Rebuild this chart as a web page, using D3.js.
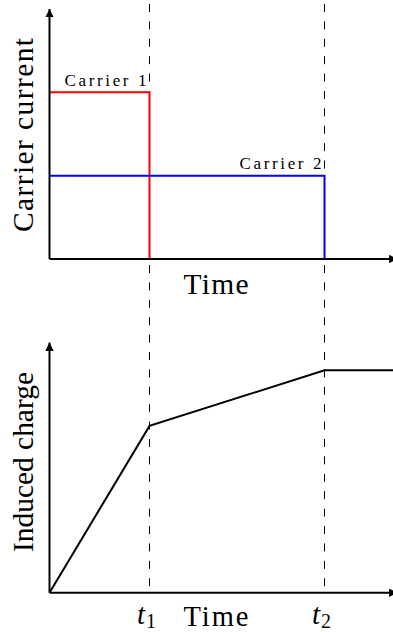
<!DOCTYPE html>
<html>
<head>
<meta charset="utf-8">
<script src="https://cdn.jsdelivr.net/npm/d3@7"></script>
<style>
  html, body { margin: 0; padding: 0; background: #fff; }
  svg { display: block; }
  text { font-family: "Liberation Serif", "Times New Roman", serif; fill: #000; }
</style>
</head>
<body>
<svg id="chart" width="393" height="632"></svg>
<script>
// Carrier transit: two carriers drift with constant current until they reach the electrode
const carrierNames = ["Carrier 1", "Carrier 2"];
const carrierCurrent = [2, 1];
const carrierEndTime = [1, 2.75];
const carrierColors = ["#ff0000", "#0000ff"];

// Charge induced on the electrode over time
const chargeTime = [0, 1, 2.75, 3.44];
const chargeValue = [0, 3, 4, 4];

// Marked arrival times
const markerTimes = [1, 2.75];
const markerSubscripts = ["1", "2"];

const svg = d3.select("#chart");

// Shared time axis for both panels
const x = d3.scaleLinear().domain([0, 3.48]).range([49.5, 397.5]);

// Panel scales
const yTop = d3.scaleLinear().domain([0, 3]).range([259, 9]);
const yBot = d3.scaleLinear().domain([0, 4.5]).range([592.7, 342.5]);

// Arrowhead markers
const defs = svg.append("defs");
defs.append("marker")
  .attr("id", "arrow")
  .attr("viewBox", "0 0 8 8")
  .attr("refX", 8).attr("refY", 4)
  .attr("markerWidth", 4.2).attr("markerHeight", 4.2)
  .attr("markerUnits", "strokeWidth")
  .attr("orient", "auto")
  .append("path")
  .attr("d", "M0,0L8,4L0,8Z")
  .attr("fill", "#000");

// Dashed guide lines at the arrival times, spanning both panels
svg.append("g").selectAll("line")
  .data(markerTimes)
  .join("line")
  .attr("x1", d => x(d)).attr("x2", d => x(d))
  .attr("y1", 4).attr("y2", yBot(0))
  .attr("stroke", "#000")
  .attr("stroke-width", 1)
  .attr("stroke-dasharray", "8,9.4");

function drawAxes(y) {
  const g = svg.append("g");
  g.append("line")
    .attr("x1", x(0)).attr("x2", x(0))
    .attr("y1", y(0)).attr("y2", y.range()[1])
    .attr("stroke", "#000").attr("stroke-width", 2)
    .attr("marker-end", "url(#arrow)");
  g.append("line")
    .attr("x1", x(0)).attr("x2", x.range()[1])
    .attr("y1", y(0)).attr("y2", y(0))
    .attr("stroke", "#000").attr("stroke-width", 2)
    .attr("marker-end", "url(#arrow)");
  return g;
}

// ---- Top panel: carrier currents ----
const carriers = carrierNames.map((name, i) => ({
  name,
  current: carrierCurrent[i],
  end: carrierEndTime[i],
  color: carrierColors[i]
}));

const stepLine = d3.line().x(d => x(d[0])).y(d => yTop(d[1]));

svg.append("g").selectAll("path")
  .data(carriers)
  .join("path")
  .attr("d", c => stepLine([[0, c.current], [c.end, c.current], [c.end, 0]]))
  .attr("fill", "none")
  .attr("stroke", c => c.color)
  .attr("stroke-width", 2);

svg.append("g").selectAll("text")
  .data(carriers)
  .join("text")
  .attr("x", c => x(c.end) - 3)
  .attr("y", c => yTop(c.current) - 6.3)
  .attr("text-anchor", "end")
  .attr("font-size", 17)
  .attr("textLength", 82)
  .attr("lengthAdjust", "spacing")
  .text(c => c.name);

drawAxes(yTop);

svg.append("text")
  .attr("x", 216).attr("y", 294)
  .attr("text-anchor", "middle")
  .attr("font-size", 29.5)
  .attr("textLength", 65)
  .attr("lengthAdjust", "spacing")
  .text("Time");

svg.append("text")
  .attr("transform", `translate(33,${135}) rotate(-90)`)
  .attr("text-anchor", "middle")
  .attr("font-size", 29.5)
  .attr("textLength", 194)
  .attr("lengthAdjust", "spacing")
  .text("Carrier current");

// ---- Bottom panel: induced charge ----
const chargeLine = d3.line()
  .x((d, i) => x(chargeTime[i]))
  .y(d => yBot(d));

svg.append("path")
  .datum(chargeValue)
  .attr("d", chargeLine)
  .attr("fill", "none")
  .attr("stroke", "#000")
  .attr("stroke-width", 2)
  .attr("stroke-linejoin", "miter");

drawAxes(yBot);

svg.append("text")
  .attr("x", 216).attr("y", 626)
  .attr("text-anchor", "middle")
  .attr("font-size", 28.5)
  .attr("textLength", 65)
  .attr("lengthAdjust", "spacing")
  .text("Time");

svg.append("text")
  .attr("transform", `translate(33,${462}) rotate(-90)`)
  .attr("text-anchor", "middle")
  .attr("font-size", 29.5)
  .attr("textLength", 180)
  .attr("lengthAdjust", "spacing")
  .text("Induced charge");

// Arrival time labels t₁, t₂ under the dashed lines
const tLabels = svg.append("g").selectAll("text")
  .data(markerTimes.map((t, i) => ({ t, sub: markerSubscripts[i] })))
  .join("text")
  .attr("x", d => x(d.t) - 12.5)
  .attr("y", 624)
  .attr("font-size", 29);
tLabels.append("tspan")
  .attr("font-style", "italic")
  .text("t");
tLabels.append("tspan")
  .attr("dx", 1)
  .attr("dy", 4)
  .attr("font-size", 20)
  .text(d => d.sub);
</script>
</body>
</html>
